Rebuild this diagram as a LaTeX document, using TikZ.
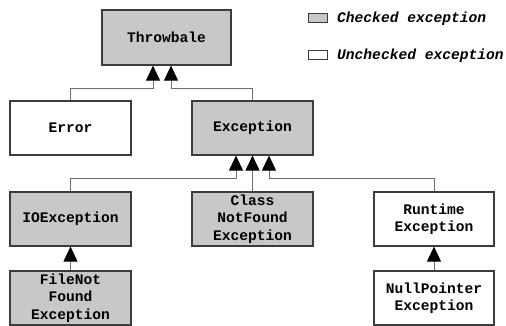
\documentclass[tikz,border=0pt]{standalone}
\usepackage{fontspec}
\setmonofont{Liberation Mono}
\usetikzlibrary{arrows.meta}
\definecolor{boxfill}{RGB}{200,200,200}
\definecolor{boxline}{RGB}{60,60,60}
\definecolor{connline}{RGB}{110,110,110}
\begin{document}
\begin{tikzpicture}[x=1pt,y=-1pt,
  every node/.style={font=\ttfamily\bfseries\fontsize{14.6}{17.3}\selectfont},
  cls/.style={draw=boxline,line width=1.2pt,minimum width=121pt,minimum height=54pt,align=center,inner sep=0pt},
  chk/.style={cls,fill=boxfill},
  unchk/.style={cls,fill=white},
  conn/.style={draw=connline,line width=1pt,-{Triangle[width=14pt,length=15pt,fill=black,color=black]}},
  legbox/.style={draw=boxline,line width=1pt,minimum width=19pt,minimum height=9pt,inner sep=0pt},
  legtext/.style={anchor=west,inner sep=0pt,font=\ttfamily\bfseries\itshape\fontsize{14.6}{17.3}\selectfont}]
\useasboundingbox (0,0) rectangle (506,326);
\node[chk,minimum width=129pt,minimum height=55pt] (thr) at (166.5,37.5) {Throwbale};
\node[unchk] (err) at (70.5,128) {Error};
\node[chk] (exc) at (252.5,128) {Exception};
\node[chk] (io) at (70.5,219) {IOException};
\node[chk] (cnf) at (252.5,219) {Class\\NotFound\\Exception};
\node[unchk,minimum width=120pt] (rt) at (434,219) {Runtime\\Exception};
\node[chk] (fnf) at (70.5,298) {FileNot\\Found\\Exception};
\node[unchk,minimum width=120pt] (np) at (434,298) {NullPointer\\Exception};
\draw[conn] (err.north) -- ++(0,-12) -| ([xshift=-13.5pt]thr.south);
\draw[conn] (exc.north) -- ++(0,-12) -| ([xshift=4.5pt]thr.south);
\draw[conn] (io.north) -- ++(0,-13) -| ([xshift=-16.5pt]exc.south);
\draw[conn] (cnf.north) -- (exc.south);
\draw[conn] (rt.north) -- ++(0,-13) -| ([xshift=16.5pt]exc.south);
\draw[conn] (fnf.north) -- (io.south);
\draw[conn] (np.north) -- (rt.south);
\node[legbox,fill=boxfill] (lc) at (317.5,18.5) {};
\node[legtext] (lct) at (337,19) {Checked exception};
\node[legbox,fill=white] (lu) at (317.5,55) {};
\node[legtext] (lut) at (337,56) {Unchecked exception};
\end{tikzpicture}
\end{document}
